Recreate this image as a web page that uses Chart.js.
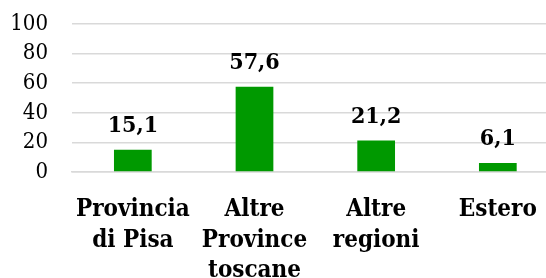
<!DOCTYPE html>
<html>
<head>
<meta charset="utf-8">
<script src="https://cdn.jsdelivr.net/npm/chart.js@4/dist/chart.umd.min.js"></script>
<style>
  html, body { margin: 0; padding: 0; background: #fff; overflow: hidden; }
  #wrap { width: 546px; height: 278px; overflow: hidden; }
</style>
</head>
<body>
<div id="wrap"><canvas id="myChart" width="560" height="278"></canvas></div>
<script>
var categories = [["Provincia", "di Pisa"], ["Altre", "Province", "toscane"], ["Altre", "regioni"], ["Estero"]];
var values = [15.1, 57.6, 21.2, 6.1];
var yTicks = [0, 20, 40, 60, 80, 100];

var serif = "'DejaVu Serif Condensed', 'DejaVu Serif', serif";

// value labels above bars, comma decimals
var barLabels = {
    id: 'barLabels',
    afterDatasetsDraw: function (chart) {
        var ctx = chart.ctx;
        var meta = chart.getDatasetMeta(0);
        ctx.save();
        ctx.font = 'bold 23px ' + serif;
        ctx.fillStyle = '#000';
        ctx.textAlign = 'center';
        ctx.textBaseline = 'alphabetic';
        meta.data.forEach(function (bar, i) {
            var txt = values[i].toFixed(1).replace('.', ',');
            ctx.fillText(txt, bar.x, bar.y - 18);
        });
        ctx.restore();
    }
};

var ctx = document.getElementById("myChart");
var myChart = new Chart(ctx, {
    type: 'bar',
    data: {
        labels: categories,
        datasets: [{
            data: values,
            backgroundColor: '#009900',
            borderWidth: 0,
            categoryPercentage: 1,
            barPercentage: 0.31
        }]
    },
    options: {
        responsive: false,
        animation: false,
        layout: { padding: { top: 24, right: 1, left: 0, bottom: 0 } },
        plugins: {
            legend: { display: false },
            tooltip: { enabled: false }
        },
        scales: {
            x: {
                grid: { display: false, drawTicks: false },
                border: { display: true, color: '#d9d9d9', width: 1.5 },
                ticks: {
                    color: '#000',
                    padding: 23,
                    maxRotation: 0,
                    autoSkip: false,
                    font: { family: serif, size: 24, weight: 'bold', lineHeight: 1.27 }
                },
                afterFit: function (scale) { scale.height = 106; }
            },
            y: {
                min: 0,
                max: 100,
                afterBuildTicks: function (scale) {
                    scale.ticks = yTicks.map(function (v) { return { value: v }; });
                },
                grid: { color: '#d9d9d9', lineWidth: 1.5, drawTicks: false },
                border: { display: false },
                ticks: {
                    color: '#000',
                    padding: 24,
                    autoSkip: false,
                    font: { family: serif, size: 22, lineHeight: 1 }
                },
                afterFit: function (scale) {
                    scale.width = 72;
                    scale.paddingTop = 0;
                    scale.paddingBottom = 0;
                }
            }
        }
    },
    plugins: [barLabels]
});
</script>
</body>
</html>
